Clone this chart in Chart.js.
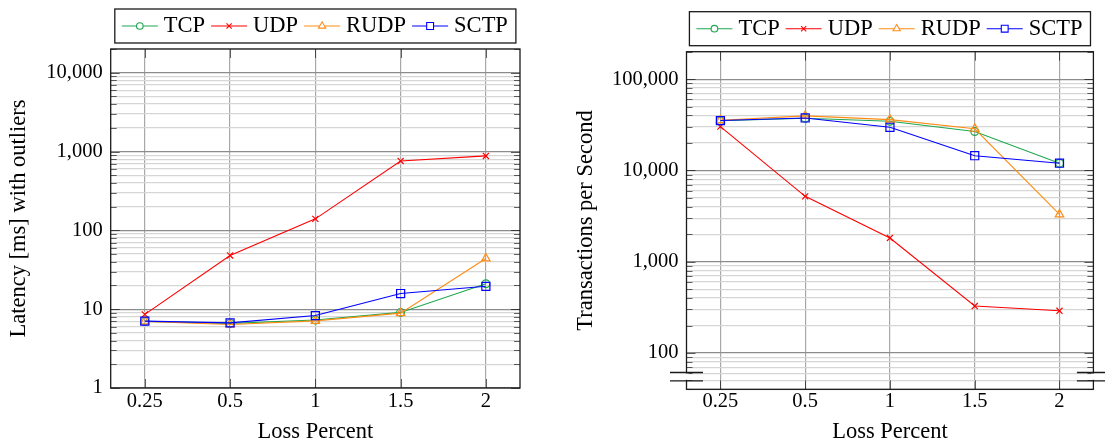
<!DOCTYPE html>
<html><head><meta charset="utf-8">
<script src="https://cdn.jsdelivr.net/npm/chart.js@4.4.1/dist/chart.umd.min.js"></script>
<style>
html,body{margin:0;padding:0;background:#fff;width:1105px;height:447px;overflow:hidden;}
canvas{position:absolute;top:0;}
#c1{left:0;}
#c2{left:553px;}
</style></head><body>
<canvas id="c1" width="553" height="447"></canvas>
<canvas id="c2" width="552" height="447"></canvas>
<script>
// ---- data ----
const lossPercent = ['0.25', '0.5', '1', '1.5', '2'];
const seriesNames = ['TCP', 'UDP', 'RUDP', 'SCTP'];
const latencyTCP  = [7.0, 6.6, 7.3, 9.1, 21];
const latencyUDP  = [8.6, 48, 140, 760, 880];
const latencyRUDP = [7.0, 6.4, 7.1, 8.9, 44];
const latencySCTP = [7.05, 6.7, 8.3, 15.8, 19.5];
const tpsTCP  = [35000, 37300, 34600, 26700, 12000];
const tpsUDP  = [30200, 5200, 1820, 327, 290];
const tpsRUDP = [35500, 39600, 36000, 28600, 3300];
const tpsSCTP = [35200, 37600, 29700, 14500, 12000];
const latencyTickLabels = [1, 10, 100, 1000, 10000];
const tpsTickLabels = [100, 1000, 10000, 100000];

// ---- styles ----
const FONT = '"Liberation Serif", "Times New Roman", serif';
const seriesStyle = {
  TCP:  {color: 'rgb(30,168,80)',  pointStyle: 'circle',   radius: 3.9},
  UDP:  {color: 'rgb(255,0,0)',    pointStyle: 'crossRot', radius: 4.3},
  RUDP: {color: 'rgb(255,140,20)', pointStyle: 'triangle', radius: 4.9},
  SCTP: {color: 'rgb(0,0,255)',    pointStyle: 'rect',     radius: 5.7}
};
const drawOrder = {TCP: 3, UDP: 2, RUDP: 1, SCTP: 0};

function isDecade(v) { const l = Math.log10(v); return Math.abs(l - Math.round(l)) < 1e-9; }
function logGridTicks(min, max) {
  const out = [];
  for (let e = Math.floor(Math.log10(min)); e <= Math.ceil(Math.log10(max)); e++) {
    for (let k = 1; k < 10; k++) {
      const v = k * Math.pow(10, e);
      if (v >= min - 1e-9 && v <= max + 1e-9) out.push({value: v, major: k === 1});
    }
  }
  return out;
}

function makeDatasets(arrays) {
  return seriesNames.map((name, si) => {
    const st = seriesStyle[name];
    return {
      label: name,
      data: lossPercent.map((c, i) => ({x: i, y: arrays[si][i]})),
      borderColor: st.color,
      backgroundColor: st.color,
      borderWidth: 1.1,
      pointStyle: st.pointStyle,
      pointRadius: st.radius,
      pointBorderWidth: 1.2,
      pointBorderColor: st.color,
      pointBackgroundColor: 'rgba(0,0,0,0)',
      tension: 0,
      order: drawOrder[name]
    };
  });
}

// ---- plugins ----
const framePlugin = {
  id: 'frame',
  afterDatasetsDraw(chart, args, opts) {
    const ctx = chart.ctx, a = chart.chartArea;
    const ys = chart.scales.y, xs = chart.scales.x;
    ctx.save();
    ctx.strokeStyle = 'rgba(0,0,0,0.6)';
    ctx.lineWidth = 1;
    ys.ticks.forEach(t => {
      const y = Math.round(ys.getPixelForValue(t.value)) + 0.5;
      const len = isDecade(t.value) ? 9 : 6;
      ctx.beginPath();
      ctx.moveTo(a.left, y); ctx.lineTo(a.left + len, y);
      ctx.moveTo(a.right, y); ctx.lineTo(a.right - len, y);
      ctx.stroke();
    });
    xs.ticks.forEach(t => {
      const x = Math.round(xs.getPixelForValue(t.value)) + 0.5;
      ctx.beginPath();
      ctx.moveTo(x, a.bottom); ctx.lineTo(x, a.bottom - 9);
      ctx.moveTo(x, a.top); ctx.lineTo(x, a.top + 9);
      ctx.stroke();
    });
    ctx.strokeStyle = '#1a1a1a';
    ctx.lineWidth = 1.3;
    ctx.strokeRect(a.left, a.top, a.right - a.left, a.bottom - a.top);
    if (opts && opts.breakY) {
      const y1 = a.bottom - 16.8, y2 = a.bottom - 8.5;
      [a.left, a.right].forEach(x => {
        ctx.fillStyle = '#fff';
        ctx.fillRect(x - 2, y1 + 1, 4, y2 - y1 - 2);
        ctx.beginPath();
        ctx.moveTo(x - 16.5, y1); ctx.lineTo(x + 16.5, y1);
        ctx.moveTo(x - 16.5, y2); ctx.lineTo(x + 16.5, y2);
        ctx.stroke();
      });
    }
    ctx.restore();
  }
};

function drawMarker(ctx, style, r, x, y) {
  if (Chart.helpers && Chart.helpers.drawPoint) {
    Chart.helpers.drawPoint(ctx, {pointStyle: style, radius: r, rotation: 0, borderWidth: 1}, x, y);
  }
}

const legendPlugin = {
  id: 'boxLegend',
  afterDraw(chart) {
    const ctx = chart.ctx, a = chart.chartArea;
    ctx.save();
    ctx.font = '22.5px ' + FONT;
    const padL = 7, padR = 8, lineLen = 36, gap = 6;
    const items = chart.data.datasets.map(d => ({label: d.label, w: ctx.measureText(d.label).width, st: seriesStyle[d.label]}));
    let total = padL + padR;
    items.forEach((it, i) => { total += lineLen + gap + it.w + (i > 0 ? gap : 0); });
    const boxH = 34;
    const top = a.top - 40;
    const left = (a.left + a.right) / 2 - total / 2;
    ctx.fillStyle = '#fff';
    ctx.fillRect(left, top, total, boxH);
    ctx.strokeStyle = '#1a1a1a';
    ctx.lineWidth = 1.3;
    ctx.strokeRect(left, top, total, boxH);
    const cy = top + boxH / 2;
    let x = left + padL;
    items.forEach((it, i) => {
      if (i > 0) x += gap;
      ctx.strokeStyle = it.st.color;
      ctx.lineWidth = 1.1;
      ctx.beginPath();
      ctx.moveTo(x, cy); ctx.lineTo(x + lineLen, cy);
      ctx.stroke();
      ctx.fillStyle = '#fff';
      ctx.strokeStyle = it.st.color;
      drawMarker(ctx, it.st.pointStyle, it.st.radius * 0.85, x + lineLen / 2, cy);
      x += lineLen + gap;
      ctx.fillStyle = '#000';
      ctx.textBaseline = 'middle';
      ctx.textAlign = 'left';
      ctx.fillText(it.label, x, cy + 0.5);
      x += it.w;
    });
    ctx.restore();
  }
};

function makeChart(canvasId, arrays, cfg) {
  return new Chart(document.getElementById(canvasId), {
    type: 'line',
    data: {datasets: makeDatasets(arrays)},
    plugins: [framePlugin, legendPlugin],
    options: {
      responsive: false,
      animation: false,
      events: [],
      layout: {padding: {left: 0, right: cfg.padRight, top: cfg.padTop, bottom: 0}},
      plugins: {
        legend: {display: false},
        tooltip: {enabled: false},
        frame: {breakY: cfg.breakY}
      },
      scales: {
        x: {
          type: 'linear',
          min: -0.4, max: 4.4,
          ticks: {
            stepSize: 1, includeBounds: false, autoSkip: false, maxRotation: 0,
            padding: cfg.xTickPad, color: '#000',
            font: {family: FONT, size: 20.5, lineHeight: 1.2},
            callback: (v) => Number.isInteger(v) ? lossPercent[v] : ''
          },
          grid: {color: '#a8a8a8', lineWidth: 1.2, drawTicks: false},
          border: {display: false},
          title: {display: true, text: 'Loss Percent', color: '#000',
                  font: {family: FONT, size: 22.5, lineHeight: 1.2}, padding: {top: 0, bottom: 1}},
          afterFit: (s) => { s.height = cfg.xHeight; }
        },
        y: {
          type: 'logarithmic',
          min: cfg.yMin, max: cfg.yMax,
          afterBuildTicks: (s) => { s.ticks = logGridTicks(cfg.yMin, cfg.yMax); },
          ticks: {
            autoSkip: false, padding: 8, color: '#000',
            font: {family: FONT, size: 20.5, lineHeight: 1.2},
            callback: (v) => cfg.labels.includes(v) ? v.toLocaleString('en-US') : ''
          },
          grid: {
            drawTicks: false,
            color: (c) => (c.tick && isDecade(c.tick.value)) ? '#8c8c8c' : '#d6d6d6',
            lineWidth: 1.2
          },
          border: {display: false},
          title: {display: true, text: cfg.yTitle, color: '#000',
                  font: {family: FONT, size: 22.5, lineHeight: 1.2}, padding: {top: cfg.yTitlePad, bottom: 0}},
          afterFit: (s) => { s.width = cfg.yWidth; }
        }
      }
    }
  });
}

makeChart('c1', [latencyTCP, latencyUDP, latencyRUDP, latencySCTP], {
  yMin: 1, yMax: 20000, labels: latencyTickLabels,
  yTitle: 'Latency [ms] with outliers',
  padRight: 33, padTop: 49, xHeight: 59, yWidth: 110.7, yTitlePad: 5.5, xTickPad: 1, breakY: false
});
makeChart('c2', [tpsTCP, tpsUDP, tpsRUDP, tpsSCTP], {
  yMin: 40, yMax: 200000, labels: tpsTickLabels,
  yTitle: 'Transactions per Second',
  padRight: 11.6, padTop: 51.7, xHeight: 57.7, yWidth: 133.5, yTitlePad: 19.5, xTickPad: 0, breakY: true
});
</script>
</body></html>
